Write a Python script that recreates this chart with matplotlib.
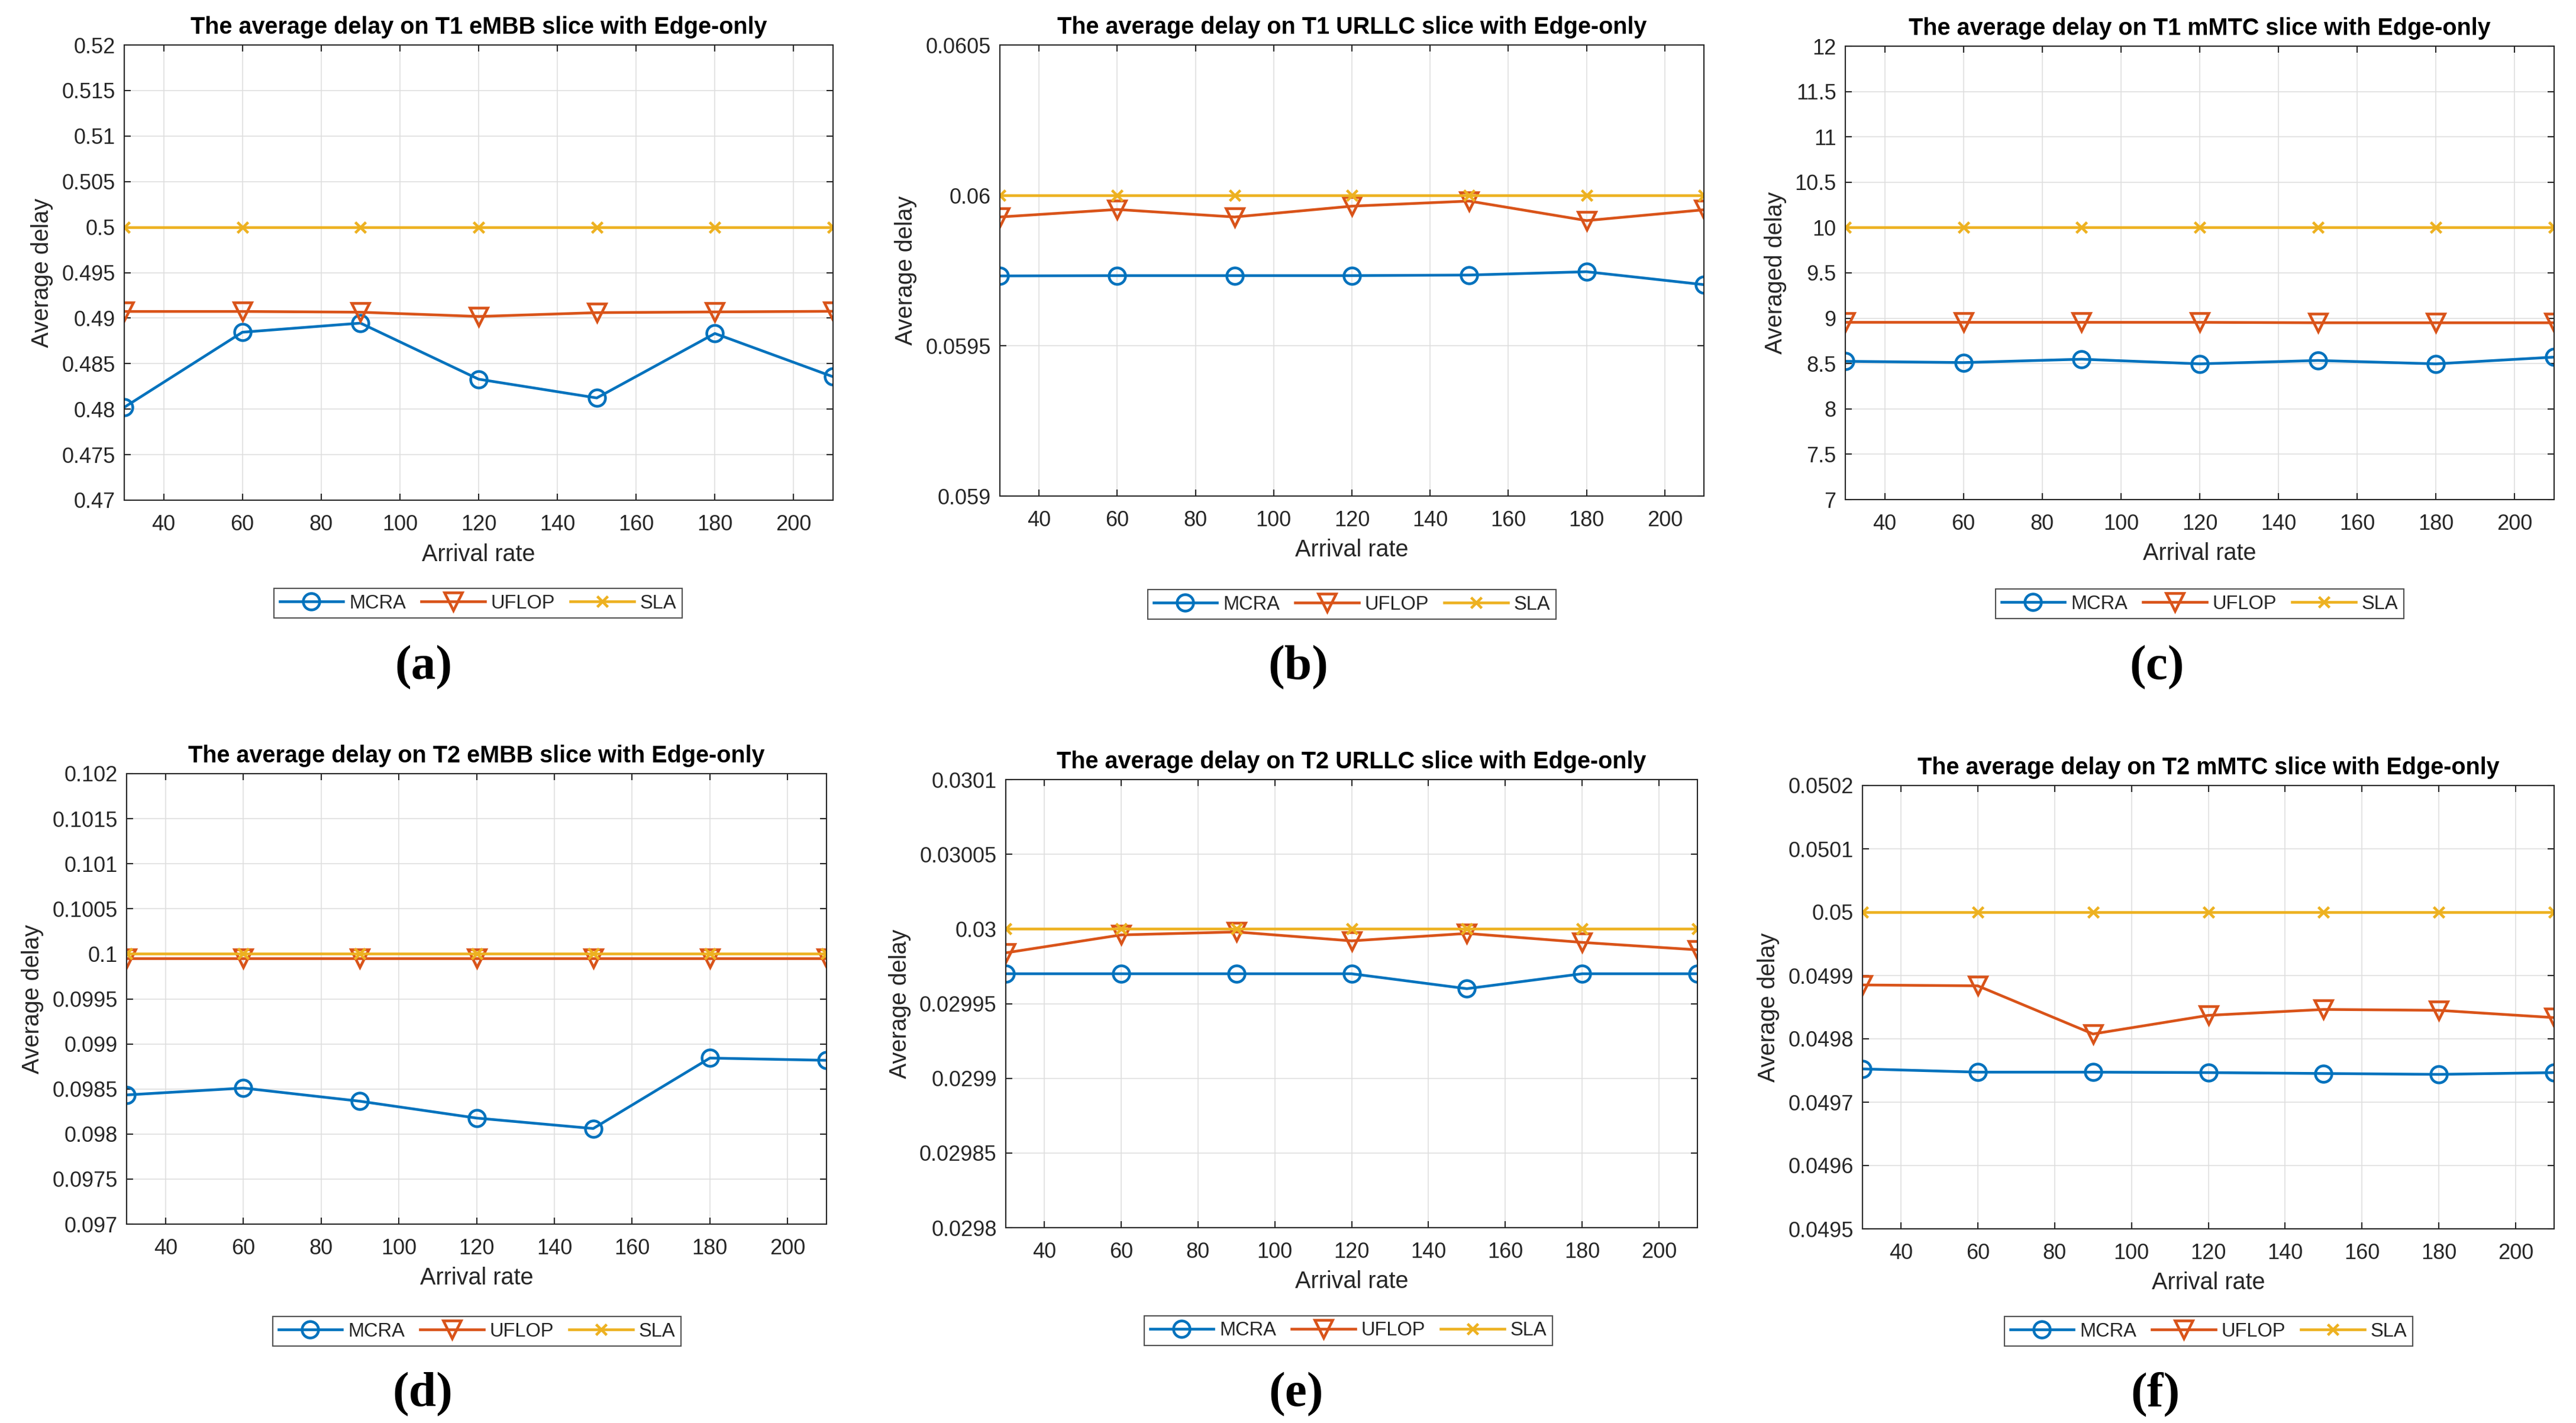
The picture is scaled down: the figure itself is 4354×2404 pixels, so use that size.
import numpy as np
import matplotlib
matplotlib.use("Agg")
import matplotlib.pyplot as plt
from matplotlib.ticker import FuncFormatter

plt.rcParams['font.family'] = ['Liberation Sans', 'DejaVu Sans']

arrival = [30, 60, 90, 120, 150, 180, 210]
xticks = [40, 60, 80, 100, 120, 140, 160, 180, 200]

# (a) T1 eMBB
a_mcra = [0.4802, 0.48845, 0.48945, 0.48329, 0.48123, 0.48831, 0.48356]
a_uflop = [0.49073, 0.49073, 0.49065, 0.49018, 0.49060, 0.49068, 0.49075]
a_sla = [0.5] * 7
# (b) T1 URLLC
b_mcra = [0.059732, 0.059733, 0.059733, 0.059733, 0.059735, 0.059746, 0.059703]
b_uflop = [0.059928, 0.059953, 0.059928, 0.059964, 0.059981, 0.059916, 0.059952]
b_sla = [0.06] * 7
# (c) T1 mMTC
c_mcra = [8.525, 8.511, 8.548, 8.497, 8.534, 8.497, 8.571]
c_uflop = [8.955, 8.955, 8.955, 8.955, 8.950, 8.950, 8.950]
c_sla = [10] * 7
# (d) T2 eMBB
d_mcra = [0.098434, 0.09851, 0.098364, 0.098177, 0.098061, 0.098843, 0.098818]
d_uflop = [0.09995] * 7
d_sla = [0.1] * 7
# (e) T2 URLLC
e_mcra = [0.02997, 0.02997, 0.02997, 0.02997, 0.02996, 0.02997, 0.02997]
e_uflop = [0.029984, 0.029996, 0.029998, 0.029992, 0.029997, 0.029991, 0.029986]
e_sla = [0.03] * 7
# (f) T2 mMTC
f_mcra = [0.0497525, 0.0497474, 0.0497474, 0.0497467, 0.0497453, 0.0497439, 0.0497467]
f_uflop = [0.0498851, 0.0498837, 0.0498077, 0.0498371, 0.0498464, 0.049845, 0.0498335]
f_sla = [0.05] * 7

titles = [
    "The average delay on T1 eMBB slice with Edge-only",
    "The average delay on T1 URLLC slice with Edge-only",
    "The average delay on T1 mMTC slice with Edge-only",
    "The average delay on T2 eMBB slice with Edge-only",
    "The average delay on T2 URLLC slice with Edge-only",
    "The average delay on T2 mMTC slice with Edge-only",
]
ylabels = ["Average delay", "Average delay", "Averaged delay",
           "Average delay", "Average delay", "Average delay"]
ylims = [(0.47, 0.52), (0.059, 0.0605), (7, 12),
         (0.097, 0.102), (0.0298, 0.0301), (0.0495, 0.0502)]
ysteps = [0.005, 0.0005, 0.5, 0.0005, 0.00005, 0.0001]
sub_labels = ["(a)", "(b)", "(c)", "(d)", "(e)", "(f)"]
series = [(a_mcra, a_uflop, a_sla), (b_mcra, b_uflop, b_sla), (c_mcra, c_uflop, c_sla),
          (d_mcra, d_uflop, d_sla), (e_mcra, e_uflop, e_sla), (f_mcra, f_uflop, f_sla)]
names = ["MCRA", "UFLOP", "SLA"]

W, H = 4354, 2404
# axes boxes in pixels: left, right, top, bottom
boxes = [(210, 1408, 76, 845), (1690, 2880, 76, 838), (3119, 4317, 78, 844),
         (214, 1397, 1307, 2068), (1700, 2869, 1317, 2074), (3148, 4317, 1327, 2076)]
legend_centers = [(808, 1019), (2285, 1021), (3718, 1020),
                  (806, 2249), (2279, 2248), (3733, 2249)]
label_centers = [(716, 1128), (2194, 1128), (3646, 1128),
                 (714, 2356), (2191, 2356), (3643, 2356)]

C_BLUE = "#0072BD"
C_ORANGE = "#D95319"
C_YELLOW = "#EDB120"
DARK = "#262626"

fig = plt.figure(figsize=(W / 100, H / 100), dpi=100)

for i in range(6):
    l, r, t, b = boxes[i]
    ax = fig.add_axes([l / W, 1 - b / H, (r - l) / W, (b - t) / H])
    mcra, uflop, sla = series[i]
    ax.plot(arrival, mcra, color=C_BLUE, lw=3.3, marker='o', ms=20, mfc='none', mew=3.3, label=names[0])
    ax.plot(arrival, uflop, color=C_ORANGE, lw=3.3, marker='v', ms=22, mfc='none', mew=3.3, label=names[1])
    ax.plot(arrival, sla, color=C_YELLOW, lw=3.3, marker='x', ms=13, mew=3.3, label=names[2])
    ax.set_xlim(30, 210)
    lo, hi = ylims[i]
    ax.set_ylim(lo, hi)
    n = int(round((hi - lo) / ysteps[i]))
    ax.set_yticks(np.linspace(lo, hi, n + 1))
    ax.yaxis.set_major_formatter(FuncFormatter(lambda v, p: "{:g}".format(round(v, 9))))
    ax.set_xticks(xticks)
    ax.grid(True, color="#dfdfdf", lw=1.2)
    ax.set_axisbelow(True)
    for s in ax.spines.values():
        s.set_color(DARK)
        s.set_linewidth(1.5)
    ax.tick_params(direction='in', length=8, width=1.5, color=DARK, labelcolor=DARK,
                   labelsize=26, top=True, right=True)
    ax.tick_params(axis='x', pad=17)
    ax.tick_params(axis='y', pad=11)
    ax.set_title(titles[i], fontsize=28.5, fontweight='bold', pad=14, color='black')
    ax.set_xlabel("Arrival rate", fontsize=28.5, color=DARK, labelpad=10)
    ax.set_ylabel(ylabels[i], fontsize=28.5, color=DARK, labelpad=10)
    lx, ly = legend_centers[i]
    leg = ax.legend(loc='center', bbox_to_anchor=(lx / W, 1 - ly / H),
                    bbox_transform=fig.transFigure, ncol=3, fontsize=23.5,
                    frameon=True, fancybox=False, handlelength=3.3, handletextpad=0.3,
                    columnspacing=0.8, borderpad=0.3, labelcolor=DARK)
    leg.get_frame().set_edgecolor(DARK)
    leg.get_frame().set_linewidth(1.5)
    sx, sy = label_centers[i]
    fig.text(sx / W, 1 - sy / H, sub_labels[i], ha='center', va='center',
             fontsize=60, fontweight='bold', family=['Liberation Serif', 'DejaVu Serif'])

fig.savefig("out.png", dpi=100, facecolor='white')
